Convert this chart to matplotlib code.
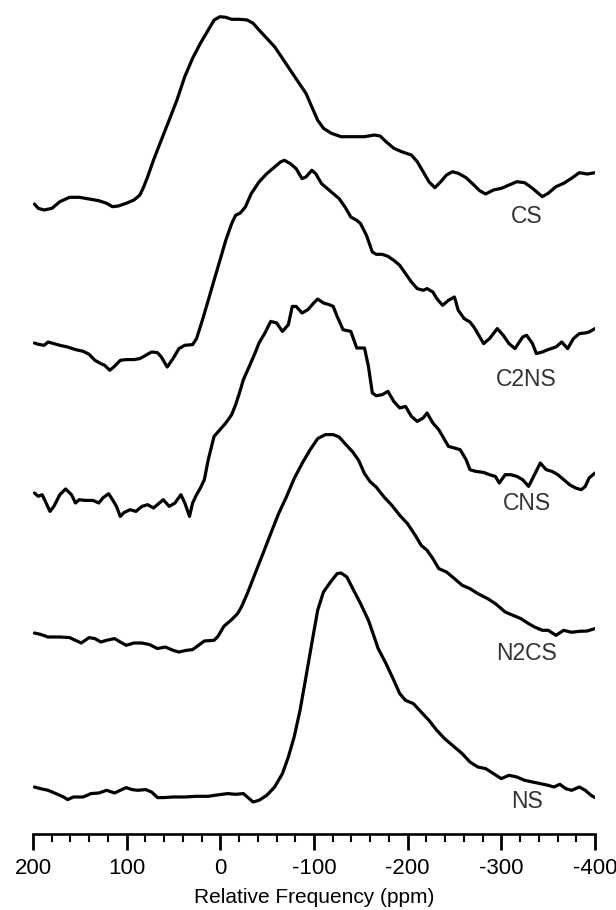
import numpy as np
import matplotlib
matplotlib.use("Agg")
import matplotlib.pyplot as plt
from matplotlib.ticker import MultipleLocator

plt.rcParams['font.family'] = ['Liberation Sans', 'DejaVu Sans']
plt.rcParams['axes.unicode_minus'] = False

# spectra: chemical shift (ppm) and intensity above each trace's own baseline
cs_ppm = [198.5, 194.4, 188.1, 179.7, 171.4, 161.0, 150.5, 140.1, 129.7, 121.4, 115.2, 108.9, 100.5, 92.2,
          85.9, 81.7, 77.6, 71.3, 63.0, 54.6, 46.3, 38.0, 29.6, 21.3, 12.9, 6.6, 0.4, -5.8, -12.1, -20.4,
          -28.7, -35.0, -41.3, -49.6, -57.9, -66.3, -74.6, -83.0, -91.4, -97.6, -103.8, -110.1, -118.5,
          -128.9, -141.4, -153.9, -164.3, -170.6, -176.9, -185.2, -193.5, -204.0, -210.2, -216.5, -222.7,
          -229.0, -235.3, -241.5, -247.8, -254.0, -262.4, -270.7, -276.9, -283.2, -291.6, -300.0, -308.3,
          -316.6, -324.9, -333.3, -343.7, -350.0, -358.3, -366.6, -374.9, -383.3, -391.7, -400.0]
cs_int = [0, -4.3, -6, -4.3, 2.3, 6.7, 6.7, 5, 3.3, 0.7, -2.7, -2, 0.7, 4,
          9, 17.3, 27.3, 44, 64, 84, 104, 127.3, 145.7, 160.7, 174, 184, 187.3, 186.7, 184.7, 184.7,
          184, 180.7, 174, 165.7, 157.3, 145.7, 134, 122.3, 110.7, 97.3, 84, 75.7, 70.7,
          67.3, 67.3, 67.3, 69, 68, 62.3, 55.7, 52.3, 49, 42.3, 32.3, 22.3,
          16.3, 22.3, 29, 32.3, 30.7, 26.3, 19, 13.3, 10, 14, 15.7, 19,
          22.3, 21.3, 15.7, 7.3, 10.7, 17.3, 20.7, 25.7, 31.3, 30, 31.3]

c2ns_ppm = [198.5, 194.4, 188.1, 183.9, 177.7, 171.4, 163.1, 154.7, 146.4, 140.1, 133.9, 127.6, 123.5,
            118.0, 113.0, 106.8, 100.5, 92.2, 85.9, 79.7, 73.4, 67.1, 63.0, 56.7, 50.5, 44.2, 38.0, 29.6,
            25.4, 19.2, 12.9, 6.7, 0.4, -5.8, -12.1, -16.3, -21.3, -26.7, -33.0, -41.3, -49.6, -58.0,
            -64.2, -68.4, -74.7, -80.9, -87.2, -91.4, -97.6, -101.8, -108.0, -114.3, -120.5, -126.8,
            -133.1, -139.3, -145.6, -149.7, -156.0, -162.3, -166.4, -172.7, -178.9, -185.2, -191.5,
            -197.7, -204.0, -210.2, -216.5, -220.7, -226.9, -231.1, -237.3, -243.6, -249.9, -254.0,
            -260.3, -266.5, -270.7, -277.0, -281.1, -287.4, -295.7, -302.0, -308.2, -314.5, -322.8,
            -327.0, -333.3, -337.4, -343.7, -349.9, -358.3, -364.5, -370.8, -377.0, -383.3, -389.6,
            -393.7, -400.0]
c2ns_int = [0, -1.3, -2.3, 1.0, -0.6, -2.3, -4.0, -6.6, -8.3, -11.3, -17.3, -20.6, -22.3,
            -27.3, -23.3, -17.3, -16.6, -16.6, -15.6, -12.3, -9.0, -9.6, -14.0, -24.0, -15.6, -5.6, -2.3, -1.6,
            4.4, 22.7, 42.7, 62.7, 82.7, 102.7, 119.4, 127.7, 130.0, 136.0, 149.4, 161.0, 169.4, 176.0,
            181.0, 182.7, 179.4, 174.4, 164.4, 166.0, 172.7, 169.4, 159.4, 154.4, 149.4, 144.4,
            136.0, 126.0, 122.7, 119.4, 107.7, 91.0, 88.7, 88.7, 86.7, 82.7, 77.7,
            69.4, 61.0, 54.4, 52.7, 54.4, 51.0, 44.4, 37.7, 42.7, 46.0, 32.7,
            24.4, 21.0, 16.0, 6.0, -0.6, 4.4, 14.4, 7.7, -0.6, -5.6, 6.0,
            7.7, -0.6, -10.6, -9.0, -6.6, -4.0, 1.0, -5.6, 4.4, 9.4, 10.0,
            11.0, 14.4]

cns_ppm = [198.5, 194.4, 190.2, 186.0, 181.9, 177.7, 171.4, 165.2, 158.9, 154.7, 150.6, 144.3, 136.0,
           129.7, 125.5, 119.3, 115.1, 110.9, 106.8, 102.6, 96.3, 90.1, 83.8, 77.6, 71.3, 65.1, 60.9,
           54.6, 48.4, 42.1, 37.9, 32.9, 29.6, 25.4, 21.3, 17.1, 12.9, 6.7, 0.4, -5.8, -12.1, -16.3,
           -20.4, -24.6, -30.9, -37.1, -41.3, -47.6, -53.8, -60.1, -66.3, -72.6, -76.8, -80.9, -87.2,
           -93.4, -99.7, -103.9, -110.1, -116.4, -120.5, -124.7, -131.0, -139.3, -145.6, -153.9,
           -158.1, -162.3, -166.4, -172.7, -178.9, -185.2, -191.5, -197.7, -204.0, -210.2, -216.5,
           -220.7, -226.9, -233.2, -239.4, -243.6, -249.9, -256.1, -262.4, -266.5, -272.8, -281.1,
           -287.4, -293.6, -297.8, -304.1, -310.3, -316.6, -322.8, -329.1, -335.4, -341.6, -347.9,
           -354.1, -360.4, -366.6, -372.9, -379.2, -385.4, -389.6, -393.7, -400.0]
cns_int = [0, -3.3, -1.7, -10.0, -18.4, -13.4, -1.7, 4.0, -1.7, -10.0, -6.7, -7.4, -7.4,
           -10.0, -5.0, -0.7, -6.7, -13.4, -23.4, -19.4, -16.7, -18.4, -13.4, -11.7, -15.0, -10.0, -6.7,
           -13.4, -10.0, -1.7, -10.0, -23.4, -10.0, -1.7, 5.0, 13.3, 33.3, 56.6, 63.3, 70.0, 78.3, 88.3,
           100.0, 113.3, 126.6, 140.0, 150.0, 160.0, 171.6, 170.0, 161.6, 168.3, 186.6, 186.6, 180.0,
           183.3, 190.0, 194.0, 190.0, 188.3, 186.6, 176.6, 163.3, 161.6, 145.0, 145.0,
           126.6, 100.0, 97.3, 98.3, 101.6, 91.6, 85.0, 86.6, 76.6, 71.6, 75.0,
           80.0, 70.0, 63.3, 53.3, 46.6, 45.0, 43.3, 33.3, 23.3, 21.6, 20.6,
           18.3, 16.6, 10.0, 18.3, 18.3, 16.6, 13.3, 6.6, 18.3, 30.0, 23.3,
           21.6, 18.3, 13.3, 8.3, 5.0, 3.3, 6.6, 15.0, 20.0]

n2cs_ppm = [198.5, 192.3, 183.9, 171.4, 161.0, 154.7, 148.5, 140.1, 133.9, 127.6, 121.4, 113.0, 106.8,
            100.5, 92.2, 83.8, 75.5, 67.1, 58.8, 50.5, 44.2, 35.9, 29.6, 23.3, 17.1, 6.7, 2.5, -3.8,
            -12.1, -18.4, -22.5, -28.8, -37.1, -45.5, -53.8, -62.2, -70.5, -78.8, -87.2, -95.5, -103.9,
            -112.2, -120.5, -126.8, -133.1, -141.4, -147.6, -153.9, -160.2, -166.4, -174.8, -183.1,
            -191.5, -199.8, -208.1, -214.4, -220.7, -226.9, -233.2, -241.5, -249.9, -258.2, -266.5,
            -274.9, -285.3, -293.6, -304.1, -312.4, -320.8, -329.1, -335.4, -343.7, -350.0, -358.3,
            -366.6, -375.0, -383.3, -391.7, -400.0]
n2cs_int = [0, -1.3, -4.0, -4.0, -4.6, -7.3, -10.0, -4.6, -5.6, -9.0, -7.3, -5.6, -9.0,
            -12.3, -10.0, -10.0, -11.6, -15.6, -14.0, -17.3, -19.0, -17.3, -16.6, -12.3, -8.0, -7.3, -3.3, 6.7,
            13.4, 19.4, 26.0, 39.4, 59.4, 79.4, 99.4, 119.4, 136.0, 154.4, 169.4, 182.7, 194.4,
            198.4, 198.4, 196.0, 189.4, 181.0, 172.7, 159.4, 151.0, 146.0, 136.0, 127.7,
            117.7, 109.4, 97.7, 87.7, 82.7, 74.4, 64.4, 61.0, 54.4, 47.7, 44.4,
            39.4, 34.4, 29.4, 21.0, 17.7, 14.4, 9.4, 6.0, 2.7, 2.7, -2.3,
            2.7, 0.7, 1.7, 2.0, 4.4]

ns_ppm = [198.5, 192.3, 183.9, 175.6, 167.3, 163.1, 156.8, 146.4, 138.1, 129.7, 121.4, 113.0, 106.8,
          100.5, 94.3, 88.0, 79.7, 73.4, 67.1, 60.9, 50.5, 38.0, 25.4, 12.9, 0.4, -7.9, -16.3, -24.6,
          -28.8, -35.0, -41.3, -49.6, -58.0, -66.3, -72.6, -78.8, -85.1, -91.4, -97.6, -103.9, -110.1,
          -116.4, -124.7, -128.9, -135.1, -141.4, -149.7, -158.1, -164.3, -168.5, -176.9, -185.2,
          -191.5, -197.7, -206.1, -214.4, -222.7, -231.1, -239.4, -249.9, -258.2, -266.5, -274.9,
          -283.2, -291.6, -299.9, -308.2, -316.6, -324.9, -333.3, -341.6, -349.9, -356.2, -362.5,
          -368.7, -375.0, -383.3, -389.6, -395.8, -400.0]
ns_int = [0, -1.6, -3.3, -6.6, -10.0, -12.6, -10.0, -10.0, -6.6, -6.0, -3.3, -6.0, -3.3,
          -0.6, -2.6, -3.3, -2.6, -5.0, -10.6, -10.6, -10.0, -10.0, -9.3, -9.3, -7.6, -6.6, -7.3, -6.6,
          -10.0, -15.0, -13.3, -8.3, 0, 13.4, 30.0, 50.0, 76.7, 110.0, 143.4, 176.7, 195.0,
          203.4, 213.4, 214.0, 210.0, 198.4, 183.4, 166.7, 150.0, 138.4, 123.4, 106.7,
          93.4, 86.7, 83.4, 75.0, 66.7, 56.7, 48.4, 40.0, 33.4, 25.0, 20.0,
          18.4, 13.4, 8.4, 11.7, 10.0, 6.7, 5.0, 3.4, 1.7, 0, 2.7,
          -1.6, -3.3, 0, -3.3, -8.3, -10.6]

names = ['CS', 'C2NS', 'CNS', 'N2CS', 'NS']
spectra = [(cs_ppm, cs_int), (c2ns_ppm, c2ns_int), (cns_ppm, cns_int),
           (n2cs_ppm, n2cs_int), (ns_ppm, ns_int)]

# vertical stacking of the traces and where each name sits under its trace
offsets = [630, 491, 341, 201, 47]
label_dy = [-12, -37, -10, -21, -15]

fig = plt.figure(figsize=(6.16, 9.10), dpi=100)
ax = fig.add_axes([33 / 616, 76 / 910, 562 / 616, 834 / 910])

for (ppm, inten), off, name, dy in zip(spectra, offsets, names, label_dy):
    ax.plot(ppm, np.asarray(inten) + off, color='black', lw=2.3,
            solid_joinstyle='round', solid_capstyle='round')
    ax.text(-327, off + dy, name, ha='center', va='center', fontsize=16.5, color='#333333')

ax.set_xlim(200, -400)
ax.set_ylim(0, 834)

for side in ['left', 'right', 'top']:
    ax.spines[side].set_visible(False)
ax.spines['bottom'].set_linewidth(1.9)
ax.set_yticks([])

ax.xaxis.set_major_locator(MultipleLocator(100))
ax.xaxis.set_minor_locator(MultipleLocator(20))
ax.tick_params(axis='x', which='major', direction='out', length=11.5, width=2.0,
               labelsize=16, pad=6)
ax.tick_params(axis='x', which='minor', direction='out', length=5.8, width=1.5)
ax.set_xlabel('Relative Frequency (ppm)', fontsize=15, labelpad=6.5)

fig.savefig('out.png', dpi=100)
